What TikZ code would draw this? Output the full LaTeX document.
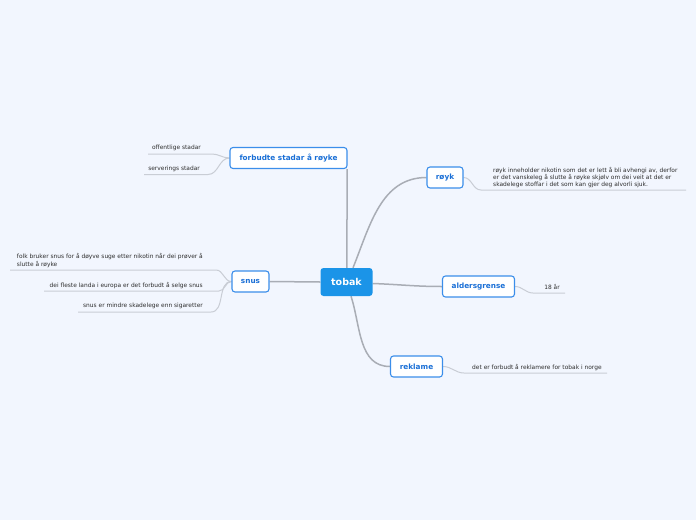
\documentclass[tikz,border=0pt]{standalone}
\usepackage{fontspec}
\setmainfont{DejaVu Sans}
\usetikzlibrary{backgrounds}
\definecolor{bg}{HTML}{F2F6FE}
\definecolor{maincol}{HTML}{1B94E8}
\definecolor{brborder}{HTML}{3B8EEA}
\definecolor{brtext}{HTML}{1A6FD6}
\definecolor{conn}{HTML}{A9ADB5}
\definecolor{leafline}{HTML}{C9CDD5}
\definecolor{leaftext}{HTML}{2E2E2E}
\tikzset{
  centre/.style={fill=maincol, rounded corners=3pt, text=white, inner sep=0pt,
    minimum width=52pt, minimum height=28pt, font=\fontsize{9.5}{11}\selectfont\bfseries},
  branch/.style={draw=brborder, line width=1.1pt, fill=white, rounded corners=3pt,
    text=brtext, inner sep=0pt, minimum height=21pt, font=\fontsize{7.3}{9}\selectfont\bfseries},
  leaf/.style={text=leaftext, inner sep=0pt, align=left, font=\fontsize{5.9}{7.1}\selectfont},
  mainconn/.style={draw=conn, line width=1.5pt},
  leafconn/.style={draw=leafline, line width=1pt},
}
\begin{document}
\begin{tikzpicture}[x=1pt,y=-1pt]
\useasboundingbox (0,0) rectangle (696,520);

% centre node
\node[centre] (tobak) at (346.5,282) {tobak};

% branch nodes
\node[branch, minimum width=117pt] (forb) at (288.5,158) {forbudte stadar å røyke};
\node[branch, minimum width=36pt] (royk) at (445,177.5) {røyk};
\node[branch, minimum width=72pt] (alder) at (478.5,286.5) {aldersgrense};
\node[branch, minimum width=52pt] (rekl) at (416.5,366.5) {reklame};
\node[branch, minimum width=37pt] (snus) at (250.5,281.5) {snus};

\begin{scope}[on background layer]
\fill[bg] (0,0) rectangle (696,520);
\draw[mainconn] ([xshift=0.3pt]tobak.north) -- ([xshift=0.7pt]tobak.north |- forb.south);
\draw[mainconn] ([xshift=6.5pt]tobak.north) to[out=68,in=180] (royk.west);
\draw[mainconn] ([yshift=-1.5pt]tobak.east) to[out=-2,in=180] (alder.west);
\draw[mainconn] ([xshift=4.5pt]tobak.south) to[out=-72,in=180] (rekl.west);
\draw[mainconn] (tobak.west) -- (snus.east);

% leaves: forbudte
\coordinate (o1a) at (148,154);
\coordinate (o1b) at (212,154);
\draw[leafconn] (forb.west) to[out=180,in=0] (o1b) -- (o1a);
\coordinate (o2a) at (144,174.5);
\coordinate (o2b) at (208,174.5);
\draw[leafconn] (forb.west) to[out=180,in=0] (o2b) -- (o2a);
% leaf: røyk
\coordinate (r1a) at (481,190);
\coordinate (r1b) at (686,190);
\draw[leafconn] (royk.east) to[out=0,in=180] (r1a) -- (r1b);
% leaf: aldersgrense
\coordinate (a1a) at (533,293);
\coordinate (a1b) at (565,293);
\draw[leafconn] (alder.east) to[out=0,in=180] (a1a) -- (a1b);
% leaf: reklame
\coordinate (k1a) at (464,373);
\coordinate (k1b) at (607,373);
\draw[leafconn] (rekl.east) to[out=0,in=180] (k1a) -- (k1b);
% leaves: snus
\coordinate (s1a) at (10,270);
\coordinate (s1b) at (216,270);
\draw[leafconn] (snus.west) to[out=180,in=0] (s1b) -- (s1a);
\coordinate (s2a) at (44,291);
\coordinate (s2b) at (219,291);
\draw[leafconn] (snus.west) to[out=180,in=0] (s2b) -- (s2a);
\coordinate (s3a) at (78,312);
\coordinate (s3b) at (211,312);
\draw[leafconn] (snus.west) to[out=180,in=0] (s3b) -- (s3a);
\end{scope}

% leaf texts
\node[leaf, anchor=east] (o1) at (201,147.7) {offentlige stadar};
\node[leaf, anchor=east] (o2) at (200,169) {serverings stadar};
\node[leaf, anchor=west] (r1) at (493,177.2) {røyk inneholder nikotin som det er lett å bli avhengi av, derfor\\er det vanskeleg å slutte å røyke skjølv om dei veit at det er\\skadelege stoffar i det som kan gjer deg alvorli sjuk.};
\node[leaf] (a1) at (552,287) {18 år};
\node[leaf, anchor=west] (k1) at (472,368) {det er forbudt å reklamere for tobak i norge};
\node[leaf, anchor=east] (s1) at (203,260.5) {folk bruker snus for å døyve suge etter nikotin når dei prøver å\\slutte å røyke};
\node[leaf, anchor=east] (s2) at (203,285.5) {dei fleste landa i europa er det forbudt å selge snus};
\node[leaf, anchor=east] (s3) at (203,306) {snus er mindre skadelege enn sigaretter};
\end{tikzpicture}
\end{document}
